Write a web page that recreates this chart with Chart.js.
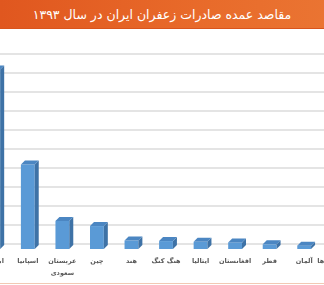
<!DOCTYPE html>
<html lang="fa">
<head>
<meta charset="utf-8">
<script src="https://cdn.jsdelivr.net/npm/chart.js@4"></script>
<style>
  html, body { margin: 0; padding: 0; background: #fff; }
  body { width: 324px; height: 285px; position: relative; overflow: hidden; }
  #title {
    position: absolute; left: 0; top: 0; width: 324px; height: 28px;
    background: linear-gradient(to right, #e0571f, #e86a2a 60%, #ea7432);
    border-bottom: 1px solid #d9541c;
    color: #fff; font-family: 'DejaVu Sans', sans-serif; font-size: 12.5px;
    line-height: 29px; text-align: center; direction: rtl;
  }
  #wrap { position: absolute; left: -24px; top: 0; width: 380px; height: 285px; }
  #footline { position: absolute; left: 0; top: 283px; width: 324px; height: 1px; background: #f2c9b4; }
</style>
</head>
<body>
<div id="wrap"><canvas id="c" width="380" height="285"></canvas></div>
<div id="title">مقاصد عمده صادرات زعفران ایران در سال ۱۳۹۳</div>
<div id="footline"></div>
<script>
'use strict';

// destinations, left to right as in the picture
const countries = [
    'امارات', 'اسپانیا', ['عربستان', 'سعودی'], 'چین', 'هند', 'هنگ کنگ',
    'ایتالیا', 'افغانستان', 'قطر', 'آلمان', 'سایر کشورها'
];
// export share (one gridline = 1 unit)
const exportValues = [9.5, 4.5, 1.53, 1.26, 0.5, 0.47, 0.43, 0.4, 0.3, 0.23, 0.2];
const gridMax = 10;

// the bars stand in front of the back wall, so push them down a bit
const FRONT_SHIFT = 6;
const DEPTH_X = 4;
const DEPTH_Y = 4;

const bar3d = {
    id: 'bar3d',
    beforeDatasetsDraw(chart) {
        chart.ctx.save();
        chart.ctx.translate(0, FRONT_SHIFT);
    },
    afterDatasetsDraw(chart) {
        const ctx = chart.ctx;
        chart.getDatasetMeta(0).data.forEach(bar => {
            const { x, y, base, width } = bar.getProps(['x', 'y', 'base', 'width'], true);
            const left = x - width / 2;
            const right = x + width / 2;
            // side face
            ctx.fillStyle = '#3e72a6';
            ctx.beginPath();
            ctx.moveTo(right, y);
            ctx.lineTo(right + DEPTH_X, y - DEPTH_Y);
            ctx.lineTo(right + DEPTH_X, base - DEPTH_Y);
            ctx.lineTo(right, base);
            ctx.closePath();
            ctx.fill();
            // top face
            ctx.fillStyle = '#4b86c2';
            ctx.beginPath();
            ctx.moveTo(left, y);
            ctx.lineTo(left + DEPTH_X, y - DEPTH_Y);
            ctx.lineTo(right + DEPTH_X, y - DEPTH_Y);
            ctx.lineTo(right, y);
            ctx.closePath();
            ctx.fill();
        });
        ctx.restore();
    }
};

new Chart(document.getElementById('c'), {
    type: 'bar',
    data: {
        labels: countries,
        datasets: [{
            data: exportValues,
            backgroundColor: '#5a9ad6',
            borderWidth: 0,
            barPercentage: 0.4,
            categoryPercentage: 1,
            clip: false
        }]
    },
    options: {
        responsive: false,
        animation: false,
        layout: { padding: { top: 54, left: 0, right: 0, bottom: 0 } },
        plugins: { legend: { display: false }, title: { display: false }, tooltip: { enabled: false } },
        scales: {
            x: {
                grid: { display: false, drawTicks: false },
                border: { display: false },
                ticks: {
                    padding: 11,
                    color: '#595959',
                    maxRotation: 0,
                    autoSkip: false,
                    font: { family: 'DejaVu Sans', size: 6.5, weight: 'bold', lineHeight: 1.85 }
                },
                afterFit(scale) {
                    scale.height = 41;
                    scale.paddingLeft = 0;
                    scale.paddingRight = 0;
                }
            },
            y: {
                display: true,
                min: 0,
                max: gridMax,
                ticks: { display: false, stepSize: 1 },
                grid: { color: '#e4e4e4', lineWidth: 2, drawTicks: false },
                border: { display: false },
                afterFit(scale) { scale.width = 0; }
            }
        }
    },
    plugins: [bar3d]
});
</script>
</body>
</html>
